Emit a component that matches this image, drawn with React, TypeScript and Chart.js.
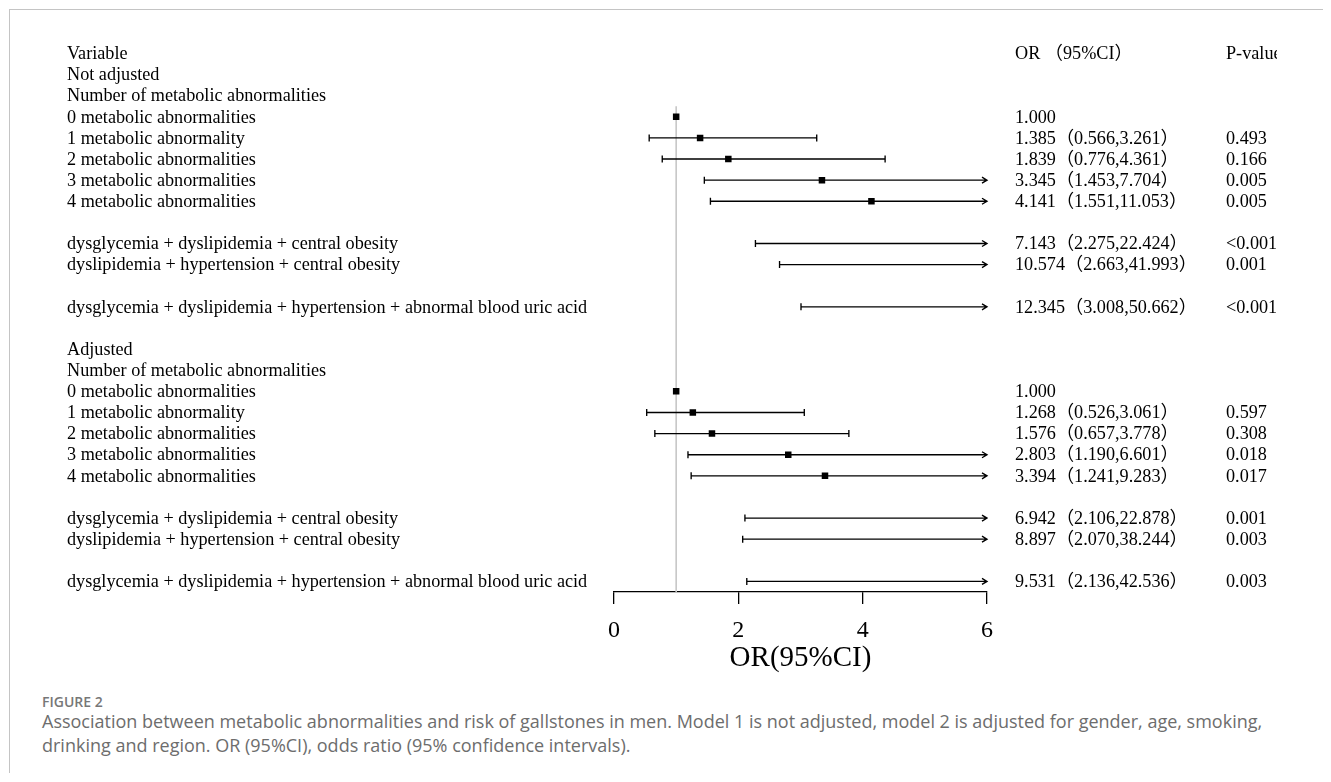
import React, { useEffect, useRef } from "react";
import { Chart, registerables } from "chart.js";

Chart.register(...registerables);

// ---------- data ----------
const rowLabels: string[] = [
  "Variable",
  "Not adjusted",
  "Number of metabolic abnormalities",
  "0 metabolic abnormalities",
  "1 metabolic abnormality",
  "2 metabolic abnormalities",
  "3 metabolic abnormalities",
  "4 metabolic abnormalities",
  "",
  "dysglycemia + dyslipidemia + central obesity",
  "dyslipidemia + hypertension + central obesity",
  "",
  "dysglycemia + dyslipidemia + hypertension + abnormal blood uric acid",
  "",
  "Adjusted",
  "Number of metabolic abnormalities",
  "0 metabolic abnormalities",
  "1 metabolic abnormality",
  "2 metabolic abnormalities",
  "3 metabolic abnormalities",
  "4 metabolic abnormalities",
  "",
  "dysglycemia + dyslipidemia + central obesity",
  "dyslipidemia + hypertension + central obesity",
  "",
  "dysglycemia + dyslipidemia + hypertension + abnormal blood uric acid",
];

const orEstimates: (number | null)[] = [
  null, null, null, 1.0, 1.385, 1.839, 3.345, 4.141, null, 7.143, 10.574, null, 12.345,
  null, null, null, 1.0, 1.268, 1.576, 2.803, 3.394, null, 6.942, 8.897, null, 9.531,
];

const ciLow: (number | null)[] = [
  null, null, null, null, 0.566, 0.776, 1.453, 1.551, null, 2.275, 2.663, null, 3.008,
  null, null, null, null, 0.526, 0.657, 1.19, 1.241, null, 2.106, 2.07, null, 2.136,
];

const ciHigh: (number | null)[] = [
  null, null, null, null, 3.261, 4.361, 7.704, 11.053, null, 22.424, 41.993, null, 50.662,
  null, null, null, null, 3.061, 3.778, 6.601, 9.283, null, 22.878, 38.244, null, 42.536,
];

const orTexts: string[] = [
  "OR （95%CI）", "", "", "1.000",
  "1.385（0.566,3.261）",
  "1.839（0.776,4.361）",
  "3.345（1.453,7.704）",
  "4.141（1.551,11.053）",
  "",
  "7.143（2.275,22.424）",
  "10.574（2.663,41.993）",
  "",
  "12.345（3.008,50.662）",
  "", "", "", "1.000",
  "1.268（0.526,3.061）",
  "1.576（0.657,3.778）",
  "2.803（1.190,6.601）",
  "3.394（1.241,9.283）",
  "",
  "6.942（2.106,22.878）",
  "8.897（2.070,38.244）",
  "",
  "9.531（2.136,42.536）",
];

const pTexts: string[] = [
  "P-value", "", "", "", "0.493", "0.166", "0.005", "0.005", "", "<0.001", "0.001", "", "<0.001",
  "", "", "", "", "0.597", "0.308", "0.018", "0.017", "", "0.001", "0.003", "", "0.003",
];

const xTicks: number[] = [0, 2, 4, 6];
const X_MIN = 0;
const X_MAX = 6;
const REF_VALUE = 1;
const axisTitle = "OR(95%CI)";

const figureLabel = "FIGURE 2";
const captionLine1 =
  "Association between metabolic abnormalities and risk of gallstones in men. Model 1 is not adjusted, model 2 is adjusted for gender, age, smoking,";
const captionLine2 = "drinking and region. OR (95%CI), odds ratio (95% confidence intervals).";

// ---------- styling ----------
const SERIF = '"Liberation Serif", "Times New Roman", "Noto Sans CJK SC", serif';

const forestPlugin = {
  id: "forestPlugin",
  beforeDatasetsDraw(chart: any) {
    const { ctx, chartArea } = chart;
    const x = chart.scales.x;
    const y = chart.scales.y;
    ctx.save();
    // reference line at OR = 1
    const rx = x.getPixelForValue(REF_VALUE);
    ctx.strokeStyle = "#c6c6c6";
    ctx.lineWidth = 1.6;
    ctx.beginPath();
    ctx.moveTo(rx, y.getPixelForValue(2.5));
    ctx.lineTo(rx, chartArea.bottom);
    ctx.stroke();

    // confidence intervals
    ctx.strokeStyle = "#000";
    ctx.lineWidth = 1.35;
    for (let i = 0; i < rowLabels.length; i++) {
      const lo = ciLow[i];
      const hi = ciHigh[i];
      if (lo == null || hi == null) continue;
      const py = y.getPixelForValue(i);
      const x1 = x.getPixelForValue(Math.max(lo, X_MIN));
      const over = hi > X_MAX;
      const x2 = x.getPixelForValue(Math.min(hi, X_MAX));
      ctx.beginPath();
      ctx.moveTo(x1, py);
      ctx.lineTo(x2, py);
      ctx.moveTo(x1, py - 3.5);
      ctx.lineTo(x1, py + 3.5);
      if (over) {
        ctx.moveTo(x2 - 5, py - 3);
        ctx.lineTo(x2, py);
        ctx.lineTo(x2 - 5, py + 3);
      } else {
        ctx.moveTo(x2, py - 3.5);
        ctx.lineTo(x2, py + 3.5);
      }
      ctx.stroke();
    }
    ctx.restore();
  },
  afterDraw(chart: any) {
    const { ctx } = chart;
    const y = chart.scales.y;
    ctx.save();
    ctx.fillStyle = "#000";
    ctx.font = `18.2px ${SERIF}`;
    ctx.textBaseline = "middle";
    ctx.textAlign = "left";
    for (let i = 0; i < rowLabels.length; i++) {
      const py = y.getPixelForValue(i) + 1;
      if (rowLabels[i]) ctx.fillText(rowLabels[i], 57, py);
      if (orTexts[i]) ctx.fillText(orTexts[i], 1005, py);
      if (pTexts[i]) ctx.fillText(pTexts[i], 1216, py);
    }
    ctx.restore();
  },
};

export default function App() {
  const canvasRef = useRef<HTMLCanvasElement>(null);

  useEffect(() => {
    const points = orEstimates
      .map((v, i) => (v == null ? null : { x: v, y: i }))
      .filter((p) => p !== null) as { x: number; y: number }[];

    const chart = new Chart(canvasRef.current as HTMLCanvasElement, {
      type: "scatter",
      data: {
        datasets: [
          {
            data: points,
            pointStyle: "rect",
            pointRadius: 4.6,
            pointHoverRadius: 4.6,
            backgroundColor: "#000",
            borderColor: "#000",
            borderWidth: 0,
          },
        ],
      },
      options: {
        animation: false,
        responsive: false,
        events: [],
        layout: { padding: { left: 604, right: 290, top: 43.4, bottom: 0 } },
        plugins: {
          legend: { display: false },
          tooltip: { enabled: false },
          title: { display: false },
        },
        scales: {
          x: {
            type: "linear",
            min: X_MIN,
            max: X_MAX,
            afterBuildTicks: (scale: any) => {
              scale.ticks = xTicks.map((v) => ({ value: v }));
            },
            afterFit: (scale: any) => {
              scale.height = 88;
            },
            grid: {
              drawOnChartArea: false,
              drawTicks: true,
              tickLength: 12,
              color: "#000",
              lineWidth: 1.3,
            },
            border: { display: true, color: "#000", width: 1.3 },
            ticks: {
              color: "#000",
              font: { family: SERIF, size: 24 },
              padding: 12,
              maxRotation: 0,
              autoSkip: false,
            },
            title: {
              display: true,
              text: axisTitle,
              color: "#000",
              font: { family: SERIF, size: 29 },
              padding: { top: 0, bottom: 4 },
            },
          },
          y: {
            type: "linear",
            display: false,
            min: 0,
            max: 25.5,
            reverse: true,
          },
        },
      } as any,
      plugins: [forestPlugin],
    });
    return () => chart.destroy();
  }, []);

  return (
    <div
      style={{
        position: "relative",
        marginLeft: 1,
        marginTop: 1,
        height: 763,
        borderTop: "1px solid #c4c4c4",
        borderLeft: "1px solid #c4c4c4",
      }}
    >
      <canvas
        ref={canvasRef}
        width={1267}
        height={670}
        style={{ position: "absolute", left: 0, top: 0, display: "block" }}
      />
      <div
        style={{
          position: "absolute",
          left: 32,
          top: 682,
          fontFamily: "'Open Sans', Lato, sans-serif",
          fontWeight: 600,
          fontSize: 14,
          lineHeight: "20px",
          color: "#777",
        }}
      >
        {figureLabel}
      </div>
      <div
        style={{
          position: "absolute",
          left: 32,
          top: 699,
          fontFamily: "'Open Sans', Lato, sans-serif",
          fontSize: 18,
          lineHeight: "24px",
          color: "#6d6d6d",
          whiteSpace: "nowrap",
        }}
      >
        {captionLine1}
        <br />
        {captionLine2}
      </div>
    </div>
  );
}
